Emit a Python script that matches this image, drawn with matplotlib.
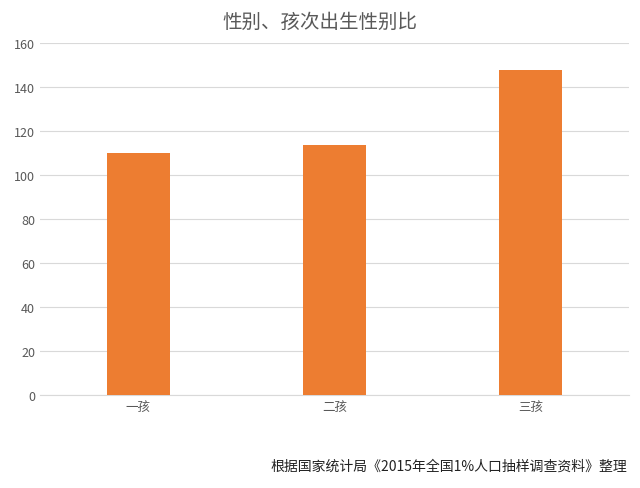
import matplotlib
matplotlib.use('Agg')
from matplotlib import pyplot as plt

plt.rcParams['font.family'] = ['Noto Sans CJK SC', 'DejaVu Sans']

# Data
categories = ['一孩', '二孩', '三孩']
sex_ratio = [109.8, 113.5, 147.6]
title = '性别、孩次出生性别比'
source = '根据国家统计局《2015年全国1%人口抽样调查资料》整理'

fig = plt.figure(figsize=(6.4, 4.89), dpi=100)
ax = fig.add_axes([0.0625, 0.19, 0.92, 0.72])
ax.bar(range(len(categories)), sex_ratio, width=0.32, color='#ED7D31', zorder=3)
ax.set_xlim(-0.5, 2.5)
ax.set_ylim(0, 160)
ax.set_yticks(range(0, 161, 20))
ax.set_xticks(range(len(categories)))
ax.set_xticklabels(categories)
ax.tick_params(axis='both', length=0, labelsize=9, colors='#595959')
ax.grid(axis='y', color='#D9D9D9', linewidth=0.8, zorder=0)
for s in ['top', 'right', 'left']:
    ax.spines[s].set_visible(False)
ax.spines['bottom'].set_color('#D9D9D9')
fig.text(0.5, 0.955, title, ha='center', va='center', fontsize=14, color='#595959')
fig.text(0.98, 0.045, source, ha='right', va='center', fontsize=10, color='#222222')
fig.savefig('out.png')
